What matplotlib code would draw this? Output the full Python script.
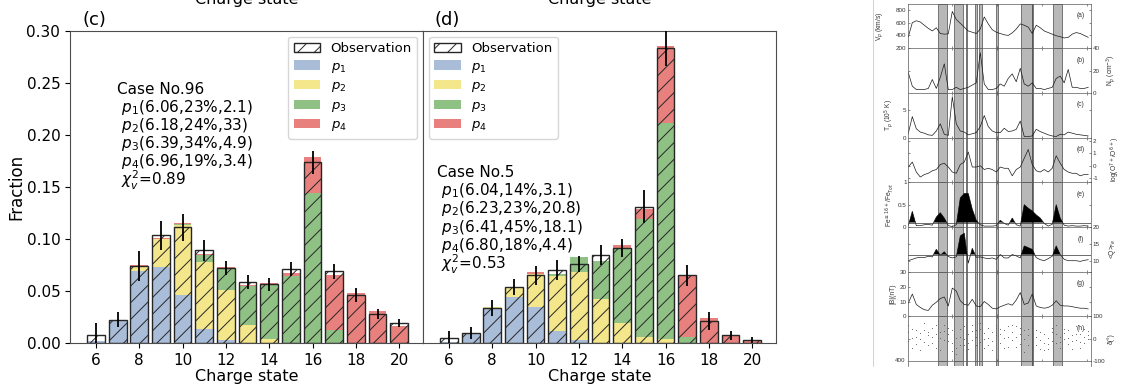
import numpy as np
import matplotlib
matplotlib.use('Agg')
import matplotlib.pyplot as plt
from matplotlib.lines import Line2D

# ---------------- data: charge-state panels ----------------
charge = [6, 7, 8, 9, 10, 11, 12, 13, 14, 15, 16, 17, 18, 19, 20]

obs_c = [0.008, 0.0224, 0.0736, 0.1036, 0.111, 0.0889, 0.072, 0.0582, 0.0563, 0.071, 0.1737, 0.0688, 0.046, 0.0281, 0.0192]
err_c = [0.011, 0.0075, 0.0144, 0.014, 0.0127, 0.0105, 0.007, 0.0067, 0.006, 0.0067, 0.011, 0.0069, 0.0067, 0.005, 0.0037]
p1_c = [0.0015, 0.0217, 0.0688, 0.0729, 0.0464, 0.0131, 0.0032, 0, 0, 0, 0, 0, 0, 0, 0]
p2_c = [0, 0, 0.0045, 0.0269, 0.0666, 0.0649, 0.048, 0.017, 0.0038, 0, 0, 0, 0, 0, 0]
p3_c = [0, 0, 0, 0, 0.0015, 0.0067, 0.0208, 0.038, 0.0522, 0.064, 0.1445, 0.0122, 0, 0, 0]
p4_c = [0, 0, 0.0015, 0.001, 0.0005, 0.001, 0.001, 0.001, 0.0016, 0.0032, 0.034, 0.0534, 0.048, 0.031, 0.016]

obs_d = [0.0045, 0.0096, 0.0336, 0.0537, 0.065, 0.0704, 0.0758, 0.0847, 0.0915, 0.131, 0.283, 0.0649, 0.0208, 0.0074, 0.0026]
err_d = [0.007, 0.006, 0.008, 0.008, 0.009, 0.0096, 0.0077, 0.0096, 0.0086, 0.016, 0.0165, 0.01, 0.0085, 0.0046, 0.003]
p1_d = [0.0005, 0.0096, 0.0336, 0.0438, 0.035, 0.0118, 0.0032, 0, 0, 0, 0, 0, 0, 0, 0]
p2_d = [0, 0, 0.0014, 0.0099, 0.0315, 0.0522, 0.0648, 0.0422, 0.0192, 0.0058, 0.004, 0, 0, 0, 0]
p3_d = [0, 0, 0, 0, 0, 0.0025, 0.0142, 0.0361, 0.0723, 0.1132, 0.207, 0.0058, 0, 0, 0]
p4_d = [0, 0, 0, 0.0005, 0.0015, 0, 0, 0, 0.0022, 0.0096, 0.0743, 0.0591, 0.024, 0.0074, 0.0026]

text_c = ["Case No.96", " $p_1$(6.06,23%,2.1)", " $p_2$(6.18,24%,33)",
          " $p_3$(6.39,34%,4.9)", " $p_4$(6.96,19%,3.4)", " $\\chi_v^2$=0.89"]
text_d = ["Case No.5", " $p_1$(6.04,14%,3.1)", " $p_2$(6.23,23%,20.8)",
          " $p_3$(6.41,45%,18.1)", " $p_4$(6.80,18%,4.4)", " $\\chi_v^2$=0.53"]

comp_labels = ["$p_1$", "$p_2$", "$p_3$", "$p_4$"]
comp_colors = ["#a9bdd9", "#f4e68a", "#8fc084", "#e8807e"]

# ---------------- data: solar-wind time-series thumbnail ----------------
t = list(range(46))
vp = [380, 600, 630, 610, 560, 510, 470, 520, 430, 420, 425, 775, 650, 590, 530, 470,
      450, 430, 500, 690, 580, 490, 450, 430, 410, 400, 440, 500, 580, 560, 530, 430,
      560, 520, 470, 445, 420, 395, 380, 360, 370, 420, 445, 430, 400, 370]
npd = [18, 6, 3, 3, 3, 4, 12, 4, 14, 26, 3, 3, 5, 3, 4, 5, 7, 9, 36, 8, 3, 3, 4, 8,
       6, 13, 17, 10, 22, 8, 6, 9, 4, 4, 3, 4, 5, 13, 15, 9, 21, 5, 5, 4, 4, 5]
tp = [0.8, 3.8, 1.6, 1.0, 0.8, 0.5, 0.4, 1.2, 2.5, 0.6, 0.4, 7.4, 2.5, 1.2, 1.0, 0.5,
      0.7, 0.9, 2.0, 4.0, 2.0, 1.2, 0.9, 0.9, 1.7, 1.1, 1.2, 1.5, 3.0, 0.2, 0.2, 0.3,
      1.5, 1.1, 0.8, 0.5, 0.3, 0.2, 0.6, 0.5, 1.0, 0.8, 0.6, 0.5, 0.4, 0.3]
logo = [-0.1, 0.3, -0.5, -0.9, -0.7, -0.6, -0.4, -0.3, 0.1, 0.2, -0.1, -0.5, -0.6, 0.1,
        0.3, 1.1, -0.1, -0.1, 0.0, -0.3, -0.2, -0.3, -0.5, -0.1, -0.2, -0.2, -0.8, -0.3,
        -0.1, 0.6, 1.3, 0.1, -0.4, -0.5, -0.3, -0.5, -0.2, 0.8, 0.2, -0.3, -0.5, -0.6,
        -0.6, -0.8, -0.7, -0.7]
fe16 = [0.03, 0.35, 0.03, 0.03, 0.05, 0.06, 0.04, 0.22, 0.32, 0.2, 0.03, 0.01, 0.05,
        0.65, 0.75, 0.75, 0.4, 0.15, 0.05, 0.02, 0.02, 0.02, 0.03, 0.15, 0.08, 0.04,
        0.2, 0.05, 0.02, 0.5, 0.42, 0.36, 0.27, 0.2, 0.08, 0.02, 0.06, 0.5, 0.2, 0.04,
        0.02, 0.03, 0.02, 0.02, 0.03, 0.02]
qfe = [10.2, 10.6, 11.0, 11.2, 11.1, 11.5, 11.3, 13.5, 11.8, 12.8, 11.4, 11.0, 11.3,
       17.4, 18.2, 9.5, 13.8, 11.2, 11.3, 11.0, 10.8, 11.0, 10.6, 12.0, 11.0, 11.0,
       12.0, 11.6, 11.0, 14.5, 14.0, 13.5, 11.1, 10.5, 10.2, 10.8, 11.5, 14.5, 12.0,
       10.6, 10.2, 10.2, 10.2, 10.0, 10.3, 10.5]
bmag = [9.0, 15.0, 8.0, 6.0, 4.5, 4.0, 7.5, 9.5, 12.0, 13.0, 7.0, 19.0, 17.0, 10.5,
        8.0, 7.5, 11.5, 7.0, 6.5, 10.0, 8.0, 5.5, 5.0, 6.5, 7.5, 8.5, 7.5, 11.0, 16.0,
        8.0, 9.0, 15.0, 7.0, 6.0, 5.5, 6.0, 7.5, 10.5, 7.5, 7.0, 7.0, 6.5, 6.0, 5.5,
        5.5, 5.0]
delta1 = [30, 45, 10, 25, 40, 15, 50, 20, 5, 60, -10, -20, -40, 10, -30, 20, 35, 10,
          45, 25, 5, 30, 50, 20, 40, 10, 30, 55, 20, 0, 15, -10, -30, -45, -20, 5,
          -10, 20, 10, 25, 5, 15, -5, 20, 10, 0]
delta2 = [-10, 5, -25, 0, -15, -30, 10, -40, 30, -5, 20, -55, 5, -30, 0, -20, -5, 40,
          -15, 0, -30, -10, 15, -20, 5, -35, -5, 10, -25, 40, -30, 25, 10, -5, -50,
          -25, 30, -20, -15, 0, -25, -10, 20, -15, -20, 15]
delta3 = [60, -40, 40, -50, 70, 30, -20, 60, -50, 35, 50, 40, -70, 45, 55, -45, 60,
          -30, 70, -40, 50, -50, 60, 45, -40, 55, 60, -35, 50, -60, 45, -40, 40, 30,
          20, -45, 50, 60, -40, 45, 40, -45, 55, -40, 45, 35]
band_start = [7.5, 11.5, 14.4, 16.7, 17.6, 21.9, 28.2, 30.85, 36.1]
band_end = [9.6, 13.75, 14.75, 17.3, 18.35, 22.35, 30.85, 31.25, 38.35]

# ---------------- figure ----------------
W, H = 1122, 387
fig = plt.figure(figsize=(W / 100, H / 100), dpi=100)
plt.rcParams['hatch.linewidth'] = 0.7


def box(l, t_, r, b):
    return [l / W, 1 - b / H, (r - l) / W, (b - t_) / H]


axc = fig.add_axes(box(70, 30.7, 423, 343))
axd = fig.add_axes(box(423, 30.7, 776, 343), sharey=axc)

width = 0.82
for ax, obs, err, comps, loc in [(axc, obs_c, err_c, [p1_c, p2_c, p3_c, p4_c], 'upper right'),
                                 (axd, obs_d, err_d, [p1_d, p2_d, p3_d, p4_d], 'upper left')]:
    bottom = np.zeros(len(charge))
    handles = []
    for vals, col, lab in zip(comps, comp_colors, comp_labels):
        h = ax.bar(charge, vals, width, bottom=bottom, color=col, linewidth=0, label=lab, zorder=1)
        handles.append(h)
        bottom = bottom + np.array(vals)
    ho = ax.bar(charge, obs, width, fill=False, hatch='//', edgecolor='0.15', linewidth=1.0,
                label='Observation', zorder=2)
    ax.errorbar(charge, obs, yerr=err, fmt='none', ecolor='black', elinewidth=1.3, capsize=0, zorder=3)
    ax.set_xlim(4.8, 21.1)
    ax.set_xticks([6, 8, 10, 12, 14, 16, 18, 20])
    ax.set_xlabel('Charge state', fontsize=11.5, labelpad=1)
    ax.tick_params(labelsize=11)
    for s in ax.spines.values():
        s.set_color('0.3')
    ax.legend([ho] + handles, ['Observation'] + comp_labels, loc=loc, fontsize=9.5,
              labelspacing=0.35, borderaxespad=0.45)

axc.set_ylim(0, 0.30)
axc.set_yticks([0, 0.05, 0.10, 0.15, 0.20, 0.25, 0.30])
axc.set_yticklabels(['0.00', '0.05', '0.10', '0.15', '0.20', '0.25', '0.30'])
axc.set_ylabel('Fraction', fontsize=12, labelpad=1)
axd.tick_params(left=False, labelleft=False)

fig.text(83 / W, 1 - 25 / H, '(c)', fontsize=13, va='baseline')
fig.text(435 / W, 1 - 25 / H, '(d)', fontsize=13, va='baseline')
# x-label of the panel above, cut off by the top edge as in the original
fig.text(246.5 / W, 1 - 4 / H, 'Charge state', fontsize=11.5, ha='center', va='baseline')
fig.text(599.5 / W, 1 - 4 / H, 'Charge state', fontsize=11.5, ha='center', va='baseline')

base_c = [93.5, 111.7, 129.9, 148.1, 166.3, 186]
base_d = [176.7, 195, 213.3, 231.6, 249.9, 269.5]
for lines, x0, bases in [(text_c, 117.3, base_c), (text_d, 437.3, base_d)]:
    for s, yb in zip(lines, bases):
        fig.text(x0 / W, 1 - yb / H, s, fontsize=11, va='baseline')

# ---------------- right thumbnail ----------------
rfont = 'Liberation Sans'
top0, ph = 3.5, 44.7
panels = [
    (vp, (200, 900), [200, 400, 600, 800], 'left', 'V$_p$ (km/s)', 880.5, '(a)'),
    (npd, (0, 40), [0, 20, 40], 'right', 'N$_p$ (cm$^{-3}$)', 1111, '(b)'),
    (tp, (0, 8.1), [0, 5], 'left', 'T$_p$ (10$^5$ K)', 889, '(c)'),
    (logo, (-1.32, 2.25), [-1, 0, 1, 2], 'right', 'log(O$^{7+}$/O$^{6+}$)', 1115, '(d)'),
    (fe16, (0, 1), [0, 0.5, 1], 'left', 'Fe$^{\\geq16+}$/Fe$_{Tot}$', 889.5, '(e)'),
    (qfe, (7, 20), [10, 15, 20], 'right', '<Q>$_{Fe}$', 1113, '(f)'),
    (bmag, (0, 30), [0, 10, 20, 30], 'left', '|B|(nT)', 893, '(g)'),
    (None, (-100, 100), [-100, 0, 100], 'right', 'δ(°)', 1110.5, '(h)'),
]
xt = [10.85, 22.1, 33.35, 44.6]
for i, (ser, yl, yt, side, lab, lx, plab) in enumerate(panels):
    top = top0 + i * ph
    ax = fig.add_axes(box(908, top, 1091, top + ph))
    for s0, s1 in zip(band_start, band_end):
        ax.axvspan(s0, s1, facecolor='0.72', edgecolor='0.15', linewidth=0.4, zorder=0)
    if ser is not None:
        ax.plot(t, ser, color='0.1', lw=0.5, zorder=2)
    else:
        for d in (delta1, delta2, delta3):
            ax.scatter(t, d, s=0.4, color='0.35', linewidths=0, zorder=2)
    if i == 4:
        ax.axhline(0.1, color='0.2', lw=0.5, zorder=2)
        ax.fill_between(t, 0.1, fe16, where=np.array(fe16) > 0.1, interpolate=True,
                        color='black', linewidth=0, zorder=2)
    if i == 5:
        ax.axhline(12, color='0.2', lw=0.5, zorder=2)
        ax.fill_between(t, 12, qfe, where=np.array(qfe) > 12, interpolate=True,
                        color='black', linewidth=0, zorder=2)
    ax.set_xlim(-0.08, 45.7)
    ax.set_ylim(*yl)
    ax.set_xticks(xt)
    ax.set_yticks(yt)
    ax.set_yticklabels([('%g' % v) for v in yt], fontfamily=rfont)
    ax.tick_params(direction='in', length=1.5, width=0.4, labelsize=4.5, pad=1,
                   left=True, right=True, top=True, bottom=True, labelbottom=False,
                   labelleft=(side == 'left'), labelright=(side == 'right'),
                   colors='0.2')
    for s in ax.spines.values():
        s.set_linewidth(0.5)
        s.set_color('0.35')
    ax.text(0.945, 0.73, plab, transform=ax.transAxes, fontsize=4.8, ha='center',
            va='center', fontfamily=rfont, color='0.2')
    fig.text(lx / W, 1 - (top + ph / 2) / H, lab, rotation=90, fontsize=4.8,
             ha='center', va='center', fontfamily=rfont, color='0.2')

# cut-off sliver of the next panel
axs = fig.add_axes(box(908, 360.8, 1091, 366))
for s0, s1 in zip(band_start, band_end):
    axs.axvspan(s0, s1, facecolor='0.72', edgecolor='0.15', linewidth=0.4)
axs.set_xlim(-0.08, 45.7)
axs.set_xticks([])
axs.set_yticks([])
axs.spines['bottom'].set_visible(False)
for s in axs.spines.values():
    s.set_linewidth(0.5)
    s.set_color('0.35')
fig.text(905 / W, 1 - 361 / H, '400', fontsize=4.5, ha='right', va='center',
         fontfamily=rfont, color='0.2')
fig.add_artist(Line2D([873 / W, 873 / W], [1 - 366 / H, 1], transform=fig.transFigure,
                      color='0.75', lw=0.5))

fig.savefig('out.png', dpi=100)
